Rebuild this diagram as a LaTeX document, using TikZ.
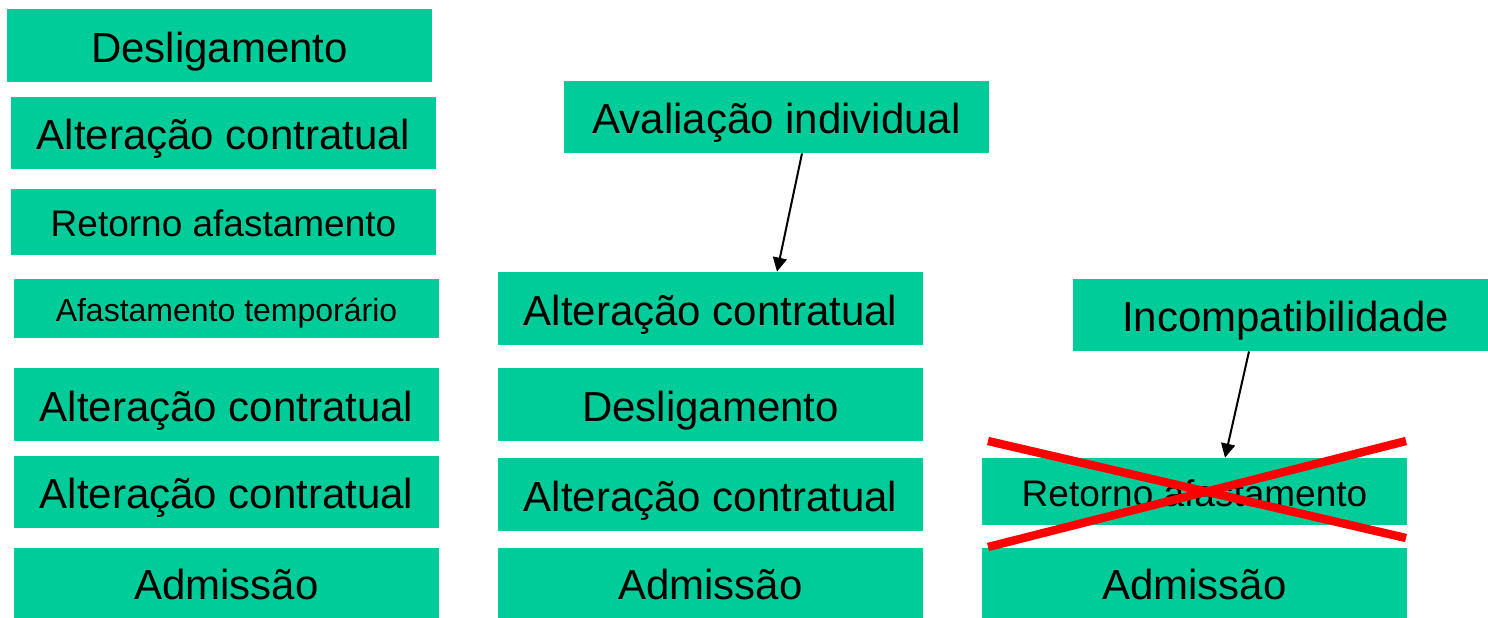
\documentclass[tikz,border=0pt]{standalone}
\usepackage{fontspec}
\setmainfont{Liberation Sans}
\usepackage{tikz}
\usetikzlibrary{arrows.meta}
\definecolor{boxGreen}{RGB}{0,204,153}
\tikzset{
	evento/.style={fill=boxGreen, inner sep=0pt, minimum width=212.5pt, minimum height=36pt,
		text height=16.6pt, text depth=0pt, font=\fontsize{21}{25}\selectfont},
	menor/.style={text height=14.6pt, font=\fontsize{18.5}{22}\selectfont},
	minimo/.style={text height=12.6pt, font=\fontsize{16}{19}\selectfont},
	seta/.style={line width=1pt, -{Triangle[length=7pt, width=7pt]}},
	risco/.style={red, line width=4.2pt}
}

\begin{document}
\begin{tikzpicture}[x=0.5pt, y=-0.5pt]
	\useasboundingbox (0, 0) rectangle (1488, 617);
	% primeira coluna
	\node[evento, minimum height=36.5pt] (desl1) at (219.5, 45.5) {Desligamento};
	\node[evento] (alt1) at (223.5, 133) {Alteração contratual};
	\node[evento, menor, minimum height=33pt] (ret1) at (223.5, 222) {Retorno afastamento};
	\node[evento, minimo, minimum height=29.5pt] (afast1) at (226.5, 308.5) {Afastamento temporário};
	\node[evento, minimum height=36.5pt] (alt2) at (226.5, 404.5) {Alteração contratual};
	\node[evento] (alt3) at (226.5, 492) {Alteração contratual};
	\node[evento, minimum height=35pt] (adm1) at (226.5, 583) {Admissão};
	% segunda coluna
	\node[evento] (aval) at (776.5, 117) {Avaliação individual};
	\node[evento, minimum height=36.5pt] (alt4) at (710.5, 308.5) {Alteração contratual};
	\node[evento, minimum height=36.5pt] (desl2) at (710.5, 404.5) {Desligamento};
	\node[evento, minimum height=36.5pt] (alt5) at (710.5, 494.5) {Alteração contratual};
	\node[evento, minimum height=35pt] (adm2) at (710.5, 583) {Admissão};
	\draw[seta] ([xshift=12.75pt]aval.south) -- ([xshift=33.25pt]alt4.north);
	% terceira coluna
	\node[evento] (incomp) at (1285.5, 315) {Incompatibilidade};
	\node[evento, menor, minimum height=33.5pt] (ret2) at (1194.5, 491.5) {Retorno afastamento};
	\node[evento, minimum height=35pt] (adm3) at (1194.5, 583) {Admissão};
	\draw[seta] ([xshift=-18.25pt]incomp.south) -- ([xshift=15.25pt]ret2.north);
	% o X vermelho
	\coordinate (xa) at (988, 441);
	\coordinate (xb) at (1406, 538);
	\coordinate (xc) at (988, 547);
	\coordinate (xd) at (1406, 441);
	\draw[risco] (xa) -- (xb);
	\draw[risco] (xc) -- (xd);
\end{tikzpicture}
\end{document}
